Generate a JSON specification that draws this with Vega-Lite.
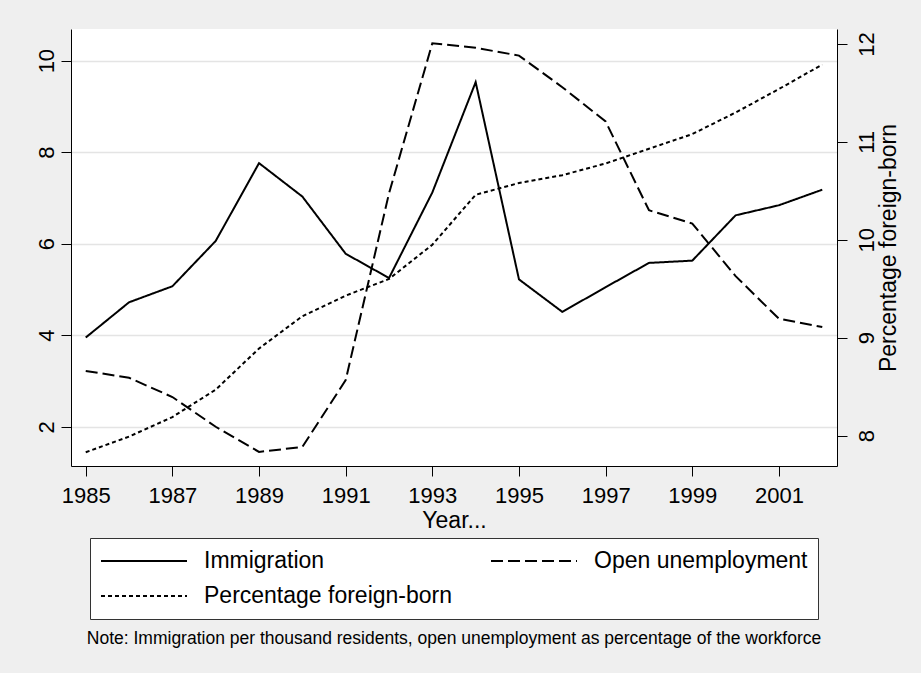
{
  "$schema": "https://vega.github.io/schema/vega-lite/v6.json",
  "width": 766,
  "height": 437,
  "autosize": {"type": "none"},
  "padding": {"left": 71, "top": 29, "right": 84, "bottom": 207},
  "background": "#efefef",
  "config": {
    "view": {"fill": "white", "stroke": null},
    "font": "Liberation Sans",
    "axis": {"domainColor": "#000", "tickColor": "#000", "labelColor": "#000", "titleColor": "#000", "labelFont": "Liberation Sans", "titleFont": "Liberation Sans", "titleFontWeight": "normal", "domainWidth": 1, "tickWidth": 1, "tickSize": 10}
  },
  "title": {"text": "Note: Immigration per thousand residents, open unemployment as percentage of the workforce", "orient": "bottom", "anchor": "middle", "fontSize": 17.5, "fontWeight": "normal", "font": "Liberation Sans", "color": "#000", "offset": 10},
  "data": {"values": [
    {"year": 1985, "series": "Immigration", "value": 3.95},
    {"year": 1986, "series": "Immigration", "value": 4.72},
    {"year": 1987, "series": "Immigration", "value": 5.07},
    {"year": 1988, "series": "Immigration", "value": 6.06},
    {"year": 1989, "series": "Immigration", "value": 7.76},
    {"year": 1990, "series": "Immigration", "value": 7.03},
    {"year": 1991, "series": "Immigration", "value": 5.78},
    {"year": 1992, "series": "Immigration", "value": 5.25},
    {"year": 1993, "series": "Immigration", "value": 7.12},
    {"year": 1994, "series": "Immigration", "value": 9.53},
    {"year": 1995, "series": "Immigration", "value": 5.22},
    {"year": 1996, "series": "Immigration", "value": 4.51},
    {"year": 1997, "series": "Immigration", "value": 5.05},
    {"year": 1998, "series": "Immigration", "value": 5.58},
    {"year": 1999, "series": "Immigration", "value": 5.63},
    {"year": 2000, "series": "Immigration", "value": 6.62},
    {"year": 2001, "series": "Immigration", "value": 6.84},
    {"year": 2002, "series": "Immigration", "value": 7.18},
    {"year": 1985, "series": "Open unemployment", "value": 3.22},
    {"year": 1986, "series": "Open unemployment", "value": 3.07},
    {"year": 1987, "series": "Open unemployment", "value": 2.65},
    {"year": 1988, "series": "Open unemployment", "value": 2.0},
    {"year": 1989, "series": "Open unemployment", "value": 1.45},
    {"year": 1990, "series": "Open unemployment", "value": 1.56},
    {"year": 1991, "series": "Open unemployment", "value": 3.02},
    {"year": 1992, "series": "Open unemployment", "value": 7.1},
    {"year": 1993, "series": "Open unemployment", "value": 10.38},
    {"year": 1994, "series": "Open unemployment", "value": 10.28},
    {"year": 1995, "series": "Open unemployment", "value": 10.11},
    {"year": 1996, "series": "Open unemployment", "value": 9.42},
    {"year": 1997, "series": "Open unemployment", "value": 8.67},
    {"year": 1998, "series": "Open unemployment", "value": 6.73},
    {"year": 1999, "series": "Open unemployment", "value": 6.44},
    {"year": 2000, "series": "Open unemployment", "value": 5.29},
    {"year": 2001, "series": "Open unemployment", "value": 4.36},
    {"year": 2002, "series": "Open unemployment", "value": 4.18},
    {"year": 1985, "series": "Percentage foreign-born", "value": 7.83},
    {"year": 1986, "series": "Percentage foreign-born", "value": 7.99},
    {"year": 1987, "series": "Percentage foreign-born", "value": 8.19},
    {"year": 1988, "series": "Percentage foreign-born", "value": 8.47},
    {"year": 1989, "series": "Percentage foreign-born", "value": 8.89},
    {"year": 1990, "series": "Percentage foreign-born", "value": 9.22},
    {"year": 1991, "series": "Percentage foreign-born", "value": 9.43},
    {"year": 1992, "series": "Percentage foreign-born", "value": 9.6},
    {"year": 1993, "series": "Percentage foreign-born", "value": 9.95},
    {"year": 1994, "series": "Percentage foreign-born", "value": 10.46},
    {"year": 1995, "series": "Percentage foreign-born", "value": 10.58},
    {"year": 1996, "series": "Percentage foreign-born", "value": 10.66},
    {"year": 1997, "series": "Percentage foreign-born", "value": 10.78},
    {"year": 1998, "series": "Percentage foreign-born", "value": 10.93},
    {"year": 1999, "series": "Percentage foreign-born", "value": 11.08},
    {"year": 2000, "series": "Percentage foreign-born", "value": 11.3},
    {"year": 2001, "series": "Percentage foreign-born", "value": 11.54},
    {"year": 2002, "series": "Percentage foreign-born", "value": 11.79}
  ]},
  "encoding": {
    "x": {"field": "year", "type": "quantitative", "scale": {"domain": [1984.66, 2002.34], "nice": false, "zero": false},
      "axis": {"values": [1985, 1987, 1989, 1991, 1993, 1995, 1997, 1999, 2001], "format": "d", "grid": false, "labelFontSize": 22, "labelPadding": 9, "title": "Year...", "titleFontSize": 23, "titlePadding": 3, "labelFlush": false}},
    "strokeDash": {"field": "series", "type": "nominal",
      "scale": {"domain": ["Immigration", "Open unemployment", "Percentage foreign-born"], "range": [[1, 0], [12, 5], [4, 3]]},
      "legend": {"title": null, "orient": "none", "legendX": 19, "legendY": 509, "direction": "horizontal", "columns": 2, "columnPadding": 37, "rowPadding": 9, "padding": 10, "clipHeight": 26,
        "strokeColor": "#333", "fillColor": "white", "symbolType": "stroke", "symbolSize": 7396, "symbolStrokeWidth": 2, "symbolStrokeColor": "#000",
        "labelFontSize": 23, "labelFont": "Liberation Sans", "labelColor": "#000", "labelOffset": 16, "labelLimit": 400}}
  },
  "layer": [
    {
      "transform": [{"filter": "datum.series !== 'Percentage foreign-born'"}],
      "mark": {"type": "line", "color": "#000", "strokeWidth": 2},
      "encoding": {
        "y": {"field": "value", "type": "quantitative", "scale": {"domain": [1.143, 10.691], "nice": false, "zero": false},
          "axis": {"values": [2, 4, 6, 8, 10], "title": null, "grid": true, "gridColor": "#e4e4e4", "gridWidth": 1.5, "labelFontSize": 22, "labelAngle": 270, "labelAlign": "center", "labelBaseline": "alphabetic", "labelPadding": 8}}
      }
    },
    {
      "transform": [{"filter": "datum.series === 'Percentage foreign-born'"}],
      "mark": {"type": "line", "color": "#000", "strokeWidth": 2},
      "encoding": {
        "y": {"field": "value", "type": "quantitative", "scale": {"domain": [7.69, 12.153], "nice": false, "zero": false},
          "axis": {"orient": "right", "values": [8, 9, 10, 11, 12], "title": "Percentage foreign-born", "grid": false, "labelFontSize": 22, "labelAngle": 270, "labelAlign": "center", "labelBaseline": "top", "labelPadding": 9, "titleFontSize": 23, "titleAngle": 270, "titleBaseline": "top", "titlePadding": 0}}
      }
    }
  ],
  "resolve": {"scale": {"y": "independent"}}
}
